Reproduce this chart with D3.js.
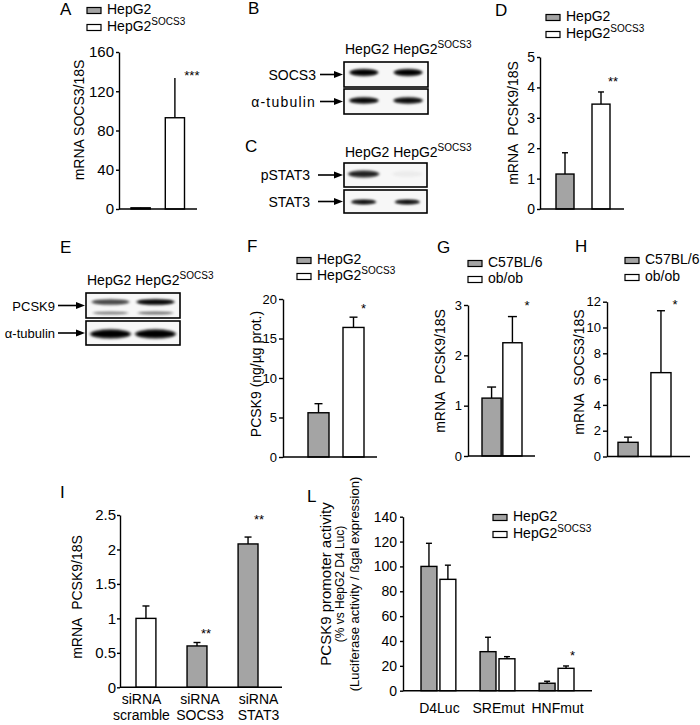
<!DOCTYPE html>
<html>
<head>
<meta charset="utf-8">
<script src="https://cdn.jsdelivr.net/npm/d3@7"></script>
<style>
  body { margin: 0; background: #fff; }
  svg { font-family: "Liberation Sans", Arial, sans-serif; }
</style>
</head>
<body>
<svg id="fig" width="700" height="725"></svg>
<script>
/* ---------- values ---------- */
const CELLS = ["HepG2", "HepG2SOCS3"];
const MICE = ["C57BL/6", "ob/ob"];
const SIRNA = ["scramble", "SOCS3", "STAT3"];
const CONSTRUCTS = ["D4Luc", "SREmut", "HNFmut"];

const A_MEAN = [1.2, 93];
const A_SD = [0.3, 40.5];
const A_STARS = ["", "***"];
const A_TICKS = [0, 40, 80, 120, 160];

const D_MEAN = [1.15, 3.45];
const D_SD = [0.7, 0.4];
const D_STARS = ["", "**"];
const D_TICKS = [0, 1, 2, 3, 4, 5];

const F_MEAN = [5.6, 16.4];
const F_SD = [1.15, 1.3];
const F_STARS = ["", "*"];
const F_TICKS = [0, 5, 10, 15, 20];

const G_MEAN = [1.15, 2.25];
const G_SD = [0.22, 0.52];
const G_STARS = ["", "*"];
const G_TICKS = [0, 1, 2, 3];

const H_MEAN = [1.1, 6.5];
const H_SD = [0.4, 4.8];
const H_STARS = ["", "*"];
const H_TICKS = [0, 2, 4, 6, 8, 10, 12];

const I_MEAN = [1.0, 0.6, 2.08];
const I_SD = [0.18, 0.05, 0.1];
const I_STARS = ["", "**", "**"];
const I_TICKS = [0, 0.5, 1, 1.5, 2, 2.5];

const L_HEPG2 = [100, 31.4, 6];
const L_HEPG2_SD = [18.6, 11.6, 1.6];
const L_SOCS3 = [89.6, 25.7, 18];
const L_SOCS3_SD = [11.4, 1.7, 1.9];
const L_STARS = ["", "", "*"]; // over the HepG2SOCS3 bars
const L_TICKS = [0, 20, 40, 60, 80, 100, 120, 140];

// western blot band strength per lane (HepG2, HepG2SOCS3)
const B_SOCS3 = [1, 1];
const B_TUBULIN = [0.95, 0.92];
const C_PSTAT3 = [0.8, 0.03];
const C_STAT3 = [0.9, 0.9];
const E_PCSK9_UP = [0.6, 0.95];
const E_PCSK9_LOW = [0.35, 0.4];
const E_TUBULIN = [1, 1];

const GRAY = "#a4a4a4";
const WHITE = "#ffffff";

const svg = d3.select("#fig");

svg.append("defs").append("filter")
  .attr("id", "blur")
  .attr("x", "-50%").attr("y", "-200%")
  .attr("width", "200%").attr("height", "500%")
  .append("feGaussianBlur").attr("stdDeviation", 0.9);

/* ---------- helpers ---------- */

// "HepG2SOCS3" gets its SOCS3 as superscript
function richText(sel, str) {
  if (/HepG2SOCS3$/.test(str)) {
    sel.append("tspan").text(str.slice(0, -5));
    sel.append("tspan").attr("font-size", 10).attr("dy", -6).text("SOCS3");
  } else {
    sel.text(str);
  }
  return sel;
}

function letter(t, x, y) {
  svg.append("text").attr("x", x).attr("y", y).attr("font-size", 17).text(t);
}

function legend(x, y, names, fills, step) {
  const g = svg.append("g");
  names.forEach((n, i) => {
    const by = y + i * step;
    g.append("rect")
      .attr("x", x).attr("y", by - 6.5)
      .attr("width", 14).attr("height", 6)
      .attr("fill", fills[i]).attr("stroke", "#000").attr("stroke-width", 1.2);
    richText(g.append("text").attr("x", x + 20).attr("y", by).attr("font-size", 14), n);
  });
}

function yAxis(g, y, c) {
  const ax = g.append("g")
    .attr("transform", `translate(${c.x0},0)`)
    .call(d3.axisLeft(y).tickValues(c.ticks).tickSize(c.tick).tickSizeOuter(0)
      .tickPadding(c.tickPad).tickFormat(d3.format("")));
  ax.attr("font-family", null).attr("font-size", c.tickFont || 14);
  ax.selectAll("path, line").attr("stroke", "#000").attr("stroke-width", 1.4);
  ax.selectAll("text").attr("fill", "#000");

  g.append("line")
    .attr("x1", c.x0).attr("x2", c.xEnd)
    .attr("y1", y(0)).attr("y2", y(0))
    .attr("stroke", "#000").attr("stroke-width", 1.4);

  c.ylab.forEach((t, i) => {
    g.append("text")
      .attr("transform", `translate(${c.ylabX[i]},${c.ylabY}) rotate(-90)`)
      .attr("text-anchor", "middle").attr("dy", "0.35em")
      .attr("font-size", Array.isArray(c.ylabSize) ? c.ylabSize[i] : (c.ylabSize || 14))
      .text(t);
  });
}

function errorBars(g, rows, cx, y, cap) {
  g.selectAll(null).data(rows).join("line")
    .attr("x1", cx).attr("x2", cx)
    .attr("y1", (d) => y(d.m)).attr("y2", (d) => y(d.m + d.sd))
    .attr("stroke", "#000").attr("stroke-width", 1.4);
  if (cap > 0) {
    g.selectAll(null).data(rows).join("line")
      .attr("x1", (d) => cx(d) - cap / 2).attr("x2", (d) => cx(d) + cap / 2)
      .attr("y1", (d) => y(d.m + d.sd)).attr("y2", (d) => y(d.m + d.sd))
      .attr("stroke", "#000").attr("stroke-width", 1.4);
  }
}

function starMarks(g, rows, cx, y, dx, gap) {
  g.selectAll(null).data(rows.filter((d) => d.star)).join("text")
    .attr("x", (d) => cx(d) + (Array.isArray(dx) ? dx[d.i] : dx))
    .attr("y", (d) => y(d.m + d.sd) - (Array.isArray(gap) ? gap[d.i] : gap) + 7.5)
    .attr("text-anchor", "middle")
    .attr("font-size", 13)
    .text((d) => d.star);
}

/* ---------- simple two/three bar panel ---------- */
function barPanel(c) {
  const g = svg.append("g");
  const x = d3.scaleBand().domain(c.cats).range([c.barL, c.barR]).paddingInner(c.pad);
  const y = d3.scaleLinear().domain([0, c.max]).range([c.y0, c.y1]);

  const rows = c.cats.map((k, i) => ({
    k, i, m: c.mean[i], sd: c.sd[i], fill: c.fills[i], star: c.stars[i],
  }));
  const cx = (d) => x(d.k) + x.bandwidth() / 2;

  errorBars(g, rows, cx, y, c.cap);

  g.selectAll(null).data(rows).join("rect")
    .attr("x", (d) => x(d.k))
    .attr("y", (d) => y(d.m))
    .attr("width", x.bandwidth())
    .attr("height", (d) => y(0) - y(d.m))
    .attr("fill", (d) => d.fill)
    .attr("stroke", "#000").attr("stroke-width", 1.4);

  yAxis(g, y, c);
  starMarks(g, rows, cx, y, c.starDx, c.starGap);
  return { g, x, y };
}

/* ---------- western blot ---------- */
function blot(c) {
  const g = svg.append("g");
  const lane = d3.scaleBand().domain(CELLS).range([c.x, c.x + c.w])
    .paddingInner(c.pi).paddingOuter(c.po);

  richText(g.append("text").attr("x", c.x + 1).attr("y", c.headY).attr("font-size", 14),
    "HepG2 HepG2SOCS3");

  c.rows.forEach((r) => {
    const h = r.h || c.h;
    g.append("rect")
      .attr("x", c.x).attr("y", r.top).attr("width", c.w).attr("height", h)
      .attr("fill", "#f7f7f7").attr("stroke", "#000").attr("stroke-width", 1.6);

    r.bands.forEach((b) => {
      const lanes = CELLS.map((k, i) => ({ k, v: b.vals[i] }));
      // soft halo, then the dark core of each band
      [[1.0, 1.5, 0.45], [0.9, 1.0, 1.0]].forEach(([wk, hk, ok]) => {
        g.selectAll(null).data(lanes).join("ellipse")
          .attr("cx", (d) => lane(d.k) + lane.bandwidth() / 2)
          .attr("cy", r.top + h * b.pos)
          .attr("rx", lane.bandwidth() * b.wf * wk / 2)
          .attr("ry", b.thick * hk)
          .attr("fill", "#000")
          .attr("fill-opacity", (d) => d.v * ok)
          .attr("filter", "url(#blur)");
      });
    });

    const my = r.top + h / 2;
    richText(g.append("text").attr("x", c.labX).attr("y", my + 5)
      .attr("text-anchor", "end").attr("font-size", c.labSize || 14)
      .attr("letter-spacing", r.spacing || null), r.label);
    g.append("line")
      .attr("x1", c.arrowX).attr("x2", c.x - 8)
      .attr("y1", my).attr("y2", my)
      .attr("stroke", "#000").attr("stroke-width", 1.6);
    g.append("path")
      .attr("d", `M${c.x - 1},${my} L${c.x - 10},${my - 3.5} L${c.x - 10},${my + 3.5} Z`)
      .attr("fill", "#000");
  });
}

/* ================= panel A ================= */
letter("A", 60, 15);
legend(87, 14, CELLS, [GRAY, WHITE], 17);
barPanel({
  cats: CELLS, mean: A_MEAN, sd: A_SD, fills: [GRAY, WHITE], stars: A_STARS,
  barL: 131, barR: 184.5, pad: 0.44, x0: 119, xEnd: 197,
  y0: 209, y1: 52, max: 160, ticks: A_TICKS, tick: 3, tickPad: 2, tickFont: 15,
  cap: 0, starDx: 17, starGap: 6,
  ylab: ["mRNA SOCS3/18S"], ylabX: [79], ylabY: 120,
});

/* ================= panels B, C ================= */
letter("B", 248, 14);
blot({
  x: 344, w: 84, pi: 0.32, po: 0.11, h: 25, headY: 54,
  labX: 316, arrowX: 320,
  rows: [
    { label: "SOCS3", top: 62, bands: [{ vals: B_SOCS3, pos: 0.42, thick: 2.8, wf: 1.0 }] },
    { label: "\u03b1-tubulin", top: 89, spacing: 1.2, bands: [{ vals: B_TUBULIN, pos: 0.46, thick: 2.6, wf: 1.02 }] },
  ],
});

letter("C", 245, 152);
blot({
  x: 344, w: 83, pi: 0.32, po: 0.11, h: 24, headY: 157,
  labX: 310, arrowX: 318,
  rows: [
    { label: "pSTAT3", top: 163, bands: [{ vals: C_PSTAT3, pos: 0.46, thick: 2.8, wf: 1.1 }] },
    { label: "STAT3", top: 190, h: 23, bands: [{ vals: C_STAT3, pos: 0.52, thick: 2.0, wf: 0.88 }] },
  ],
});

/* ================= panel D ================= */
letter("D", 495, 16);
legend(546, 21, CELLS, [GRAY, WHITE], 17);
barPanel({
  cats: CELLS, mean: D_MEAN, sd: D_SD, fills: [GRAY, WHITE], stars: D_STARS,
  barL: 556, barR: 610, pad: 0.5, x0: 540, xEnd: 624,
  y0: 209, y1: 57, max: 5, ticks: D_TICKS, tick: 3, tickPad: 2,
  cap: 6, starDx: 12, starGap: 13.5,
  ylab: ["mRNA\u00a0 PCSK9/18S"], ylabX: [513], ylabY: 123,
});

/* ================= panel E ================= */
letter("E", 60, 253);
blot({
  x: 86, w: 94, pi: 0.07, po: 0.08, h: 25, headY: 285,
  labX: 55, arrowX: 58, labSize: 13,
  rows: [
    {
      label: "PCSK9", top: 293, bands: [
        { vals: E_PCSK9_UP, pos: 0.36, thick: 2.3, wf: 0.95 },
        { vals: E_PCSK9_LOW, pos: 0.8, thick: 1.3, wf: 0.9 },
      ],
    },
    { label: "\u03b1-tubulin", top: 321, h: 24, bands: [{ vals: E_TUBULIN, pos: 0.54, thick: 3.6, wf: 1.02 }] },
  ],
});

/* ================= panel F ================= */
letter("F", 247, 252);
legend(297, 264, CELLS, [GRAY, WHITE], 16);
barPanel({
  cats: CELLS, mean: F_MEAN, sd: F_SD, fills: [GRAY, WHITE], stars: F_STARS,
  barL: 308, barR: 364, pad: 0.4, x0: 283, xEnd: 377,
  y0: 457, y1: 299, max: 20, ticks: F_TICKS, tick: 4, tickPad: 2, tickFont: 13,
  cap: 8, starDx: 10, starGap: 12,
  ylab: ["PCSK9 (ng/\u00b5g prot.)"], ylabX: [256], ylabY: 374,
});

/* ================= panel G ================= */
letter("G", 437, 253);
legend(468, 267, MICE, [GRAY, WHITE], 16);
barPanel({
  cats: MICE, mean: G_MEAN, sd: G_SD, fills: [GRAY, WHITE], stars: G_STARS,
  barL: 482, barR: 522, pad: 0.08, x0: 468, xEnd: 535,
  y0: 456, y1: 305, max: 3, ticks: G_TICKS, tick: 4, tickPad: 2, tickFont: 13,
  cap: 9, starDx: 14.5, starGap: 14,
  ylab: ["mRNA\u00a0 PCSK9/18S"], ylabX: [440], ylabY: 371,
});

/* ================= panel H ================= */
letter("H", 575, 252);
legend(625, 264, MICE, [GRAY, WHITE], 17);
barPanel({
  cats: MICE, mean: H_MEAN, sd: H_SD, fills: [GRAY, WHITE], stars: H_STARS,
  barL: 618, barR: 671, pad: 0.39, x0: 607, xEnd: 690,
  y0: 456.5, y1: 301.7, max: 12, ticks: H_TICKS, tick: 4, tickPad: 2, tickFont: 13,
  cap: 8, starDx: 14, starGap: 9,
  ylab: ["mRNA\u00a0 SOCS3/18S"], ylabX: [579], ylabY: 372,
});

/* ================= panel I ================= */
letter("I", 60, 498);
const pI = barPanel({
  cats: SIRNA, mean: I_MEAN, sd: I_SD, fills: [WHITE, GRAY, GRAY], stars: I_STARS,
  barL: 136, barR: 258, pad: 0.61, x0: 120, xEnd: 282,
  y0: 687.3, y1: 515, max: 2.5, ticks: I_TICKS, tick: 3, tickPad: 1, tickFont: 15,
  cap: 7, starDx: [0, 9, 11], starGap: [0, 12, 21],
  ylab: ["mRNA\u00a0 PCSK9/18S"], ylabX: [77], ylabY: 597,
});
const iLab = d3.scalePoint().domain(SIRNA).range([141.5, 258.5]);
SIRNA.forEach((k) => {
  const t = pI.g.append("text").attr("text-anchor", "middle").attr("font-size", 14);
  t.append("tspan").attr("x", iLab(k)).attr("y", 704).text("siRNA");
  t.append("tspan").attr("x", iLab(k)).attr("y", 720).text(k);
});

/* ================= panel L ================= */
letter("L", 307, 502);
legend(493, 521, CELLS, [GRAY, WHITE], 17);
{
  const g = svg.append("g");
  const c = {
    x0: 403, xEnd: 592, ticks: L_TICKS, tick: 3, tickPad: 3,
    ylab: ["PCSK9 promoter activity", "(% vs HepG2 D4 Luc)", "(Luciferase activity / \u00dfgal expression)"],
    ylabX: [326, 340, 354], ylabY: 584, ylabSize: [15, 12, 13],
  };
  const y = d3.scaleLinear().domain([0, 140]).range([690.7, 516.7]);
  const gx = d3.scaleBand().domain(CONSTRUCTS).range([421, 574]).paddingInner(0.41);
  const sx = d3.scaleBand().domain(CELLS).range([0, gx.bandwidth()]).paddingInner(0.16);

  const rows = [];
  CONSTRUCTS.forEach((k, i) => {
    rows.push({ k, cell: CELLS[0], i, m: L_HEPG2[i], sd: L_HEPG2_SD[i], fill: GRAY, star: "" });
    rows.push({ k, cell: CELLS[1], i, m: L_SOCS3[i], sd: L_SOCS3_SD[i], fill: WHITE, star: L_STARS[i] });
  });
  const cx = (d) => gx(d.k) + sx(d.cell) + sx.bandwidth() / 2;

  errorBars(g, rows, cx, y, 6);
  g.selectAll(null).data(rows).join("rect")
    .attr("x", (d) => gx(d.k) + sx(d.cell))
    .attr("y", (d) => y(d.m))
    .attr("width", sx.bandwidth())
    .attr("height", (d) => y(0) - y(d.m))
    .attr("fill", (d) => d.fill)
    .attr("stroke", "#000").attr("stroke-width", 1.4);
  yAxis(g, y, c);
  starMarks(g, rows, cx, y, 6.5, 13.5);

  g.selectAll(null).data(CONSTRUCTS).join("text")
    .attr("x", (d) => gx(d) + gx.bandwidth() / 2 + 1)
    .attr("y", 713)
    .attr("text-anchor", "middle").attr("font-size", 14)
    .text((d) => d);
}
</script>
</body>
</html>
